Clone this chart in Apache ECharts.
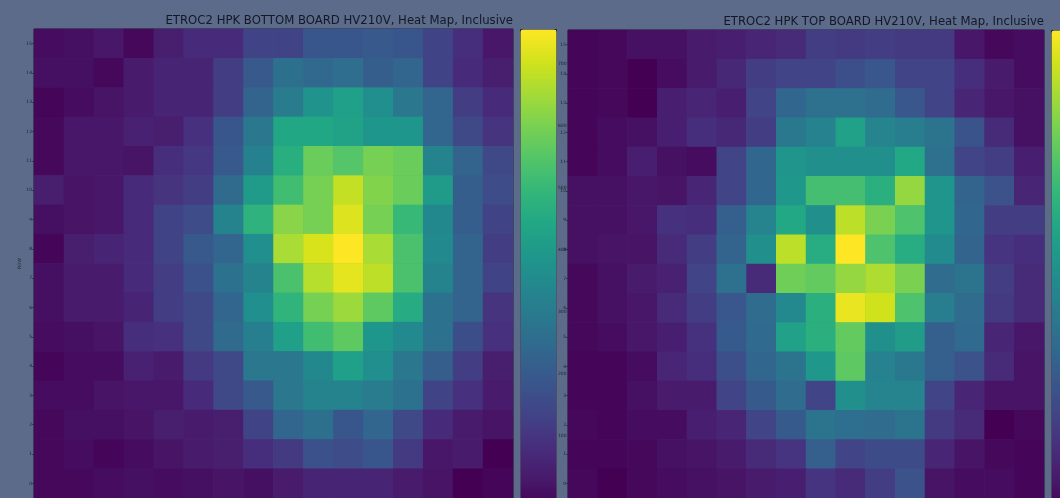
<!DOCTYPE html>
<html>
<head>
<meta charset="utf-8">
<script src="https://cdn.jsdelivr.net/npm/echarts@6/dist/echarts.min.js"></script>
<style>
html,body{margin:0;padding:0;background:#5b6b89;}
#c{width:1060px;height:498px;}
</style>
</head>
<body>
<div id="c"></div>
<script>
// Column / row categories (0..15)
const columns = ['0','1','2','3','4','5','6','7','8','9','10','11','12','13','14','15'];
const rows = ['0','1','2','3','4','5','6','7','8','9','10','11','12','13','14','15'];
const colorbarTicks = [100, 200, 300, 400, 500, 600, 700];

const leftTitle = 'ETROC2 HPK BOTTOM BOARD HV210V, Heat Map, Inclusive';
const rightTitle = 'ETROC2 HPK TOP BOARD HV210V, Heat Map, Inclusive';

// Hit counts, listed from ROW 15 (top) down to ROW 0 (bottom); columns 0..15
const bottomBoard = [
  [23,30,45,15,60,90,90,150,150,203,203,210,203,150,98,45],
  [30,30,15,53,75,75,135,210,278,255,270,225,248,150,90,60],
  [8,23,38,53,75,75,135,240,315,390,428,375,300,248,135,90],
  [15,45,45,68,60,105,203,300,450,450,435,398,398,248,165,113],
  [15,45,45,38,98,120,210,330,473,585,555,600,585,338,240,165],
  [60,38,45,90,113,135,263,413,525,600,690,615,585,413,225,173],
  [30,38,45,90,150,173,338,488,623,600,720,600,510,353,225,150],
  [8,60,75,90,150,210,248,375,660,713,757,660,540,360,240,135],
  [30,53,53,90,135,188,285,338,540,675,728,683,540,338,240,150],
  [30,53,53,75,135,165,248,375,495,600,645,570,465,285,240,113],
  [23,30,38,98,105,165,263,323,428,525,570,398,360,285,180,105],
  [8,23,23,68,53,128,165,300,300,353,428,375,300,225,135,60],
  [23,23,38,45,45,90,165,210,300,338,338,315,285,150,105,53],
  [15,30,30,38,60,53,60,150,248,278,203,248,165,90,53,38],
  [15,23,8,23,38,53,60,98,128,188,173,203,128,45,53,0],
  [15,15,23,30,23,30,38,30,53,75,75,75,53,38,0,8]
];
const topBoard = [
  [7,14,29,29,50,58,72,86,130,122,130,122,122,43,14,22],
  [7,14,0,22,50,79,130,144,144,173,194,144,144,94,50,22],
  [7,14,0,58,72,58,144,238,266,266,252,194,144,72,43,29],
  [7,22,29,58,94,79,130,288,317,410,324,302,274,187,86,29],
  [7,22,58,29,22,144,238,374,360,360,360,432,266,144,130,58],
  [29,29,43,36,72,144,238,382,504,504,454,605,374,230,180,72],
  [29,29,43,101,94,216,324,432,360,648,576,518,374,238,130,130],
  [29,36,36,86,130,230,360,648,446,720,518,446,346,230,108,94],
  [14,29,50,65,144,266,86,562,547,605,634,576,252,274,130,86],
  [14,29,43,86,130,194,252,338,454,698,670,518,302,252,122,86],
  [14,22,43,58,101,202,245,410,454,547,360,396,216,245,72,43],
  [7,7,22,72,94,173,238,274,382,540,317,288,216,180,86,36],
  [7,7,29,50,50,144,202,252,144,360,324,324,144,72,36,36],
  [14,7,22,22,58,72,144,202,274,259,252,274,122,86,0,14],
  [7,7,14,29,36,50,86,108,216,144,166,166,72,36,14,7],
  [14,0,14,22,29,36,50,58,108,86,130,180,36,22,22,7]
];
const leftRange = [0, 757];
const rightRange = [0, 720];

const viridis = ['#440154','#481a6c','#472f7d','#414487','#39568c','#31688e','#2a788e','#23888e',
  '#1f988b','#22a884','#35b779','#54c568','#7ad151','#a5db36','#d2e21b','#fde725'];

function toCells(board) {
  const out = [];
  board.forEach((r, i) => {
    const y = 15 - i;
    r.forEach((v, x) => out.push([x, y, v]));
  });
  return out;
}

const tickFont = {fontSize: 4.5, color: '#1e2230', fontFamily: 'DejaVu Sans', margin: 2};
function catY(gridIndex) {
  return {
    type: 'category', data: rows, gridIndex,
    axisLine: {show: false},
    axisTick: {show: true, length: 2, alignWithLabel: true, lineStyle: {color: '#1e2230', width: 0.6}},
    axisLabel: tickFont,
    splitLine: {show: false},
    name: 'ROW', nameLocation: 'middle', nameGap: 12, nameRotate: 90,
    nameTextStyle: {fontSize: 4.5, color: '#1e2230', fontFamily: 'DejaVu Sans'}
  };
}
function catX(gridIndex) {
  return {
    type: 'category', data: columns, gridIndex,
    axisLine: {show: false}, axisTick: {show: false}, axisLabel: {show: false}, splitLine: {show: false}
  };
}

const titleStyle = {fontSize: 11.7, fontWeight: 'normal', color: '#141826', fontFamily: 'DejaVu Sans'};
const option = {
  backgroundColor: '#5b6b89',
  animation: false,
  title: [
    {text: leftTitle, right: 1060 - 513, top: 15, textStyle: titleStyle, padding: 0},
    {text: rightTitle, right: 1060 - 1044, top: 16, textStyle: titleStyle, padding: 0}
  ],
  grid: [
    {left: 34, top: 29, width: 479, height: 480, show: true, borderColor: '#222631', borderWidth: 1, backgroundColor: 'transparent'},
    {left: 568, top: 30, width: 476, height: 480, show: true, borderColor: '#222631', borderWidth: 1, backgroundColor: 'transparent'},
    {left: 520, top: 29, width: 36, height: 480, show: false}
  ],
  xAxis: [
    catX(0), catX(1),
    {type: 'value', gridIndex: 2, show: false, min: 0, max: 1}
  ],
  yAxis: [
    catY(0), catY(1),
    {type: 'value', gridIndex: 2, min: leftRange[0], max: leftRange[1], interval: 100, position: 'right',
     axisLine: {show: false},
     axisTick: {show: true, length: 2, lineStyle: {color: '#1e2230', width: 0.6}},
     axisLabel: Object.assign({}, tickFont, {showMaxLabel: false, showMinLabel: false,
       formatter: v => colorbarTicks.indexOf(v) >= 0 ? String(v) : ''}),
     splitLine: {show: false}}
  ],
  visualMap: [
    {type: 'continuous', seriesIndex: 0, min: leftRange[0], max: leftRange[1], calculable: false,
     left: 520, top: 29, itemWidth: 36, itemHeight: 480, padding: 0, text: null, showLabel: false,
     hoverLink: false, borderColor: '#222631', borderWidth: 1,
     inRange: {color: viridis}},
    {type: 'continuous', seriesIndex: 1, min: rightRange[0], max: rightRange[1], calculable: false,
     left: 1051, top: 30, itemWidth: 36, itemHeight: 480, padding: 0, text: null, showLabel: false,
     hoverLink: false, borderColor: '#222631', borderWidth: 1,
     inRange: {color: viridis}}
  ],
  series: [
    {type: 'heatmap', xAxisIndex: 0, yAxisIndex: 0, data: toCells(bottomBoard),
     itemStyle: {borderWidth: 0}, emphasis: {disabled: true}},
    {type: 'heatmap', xAxisIndex: 1, yAxisIndex: 1, data: toCells(topBoard),
     itemStyle: {borderWidth: 0}, emphasis: {disabled: true}}
  ]
};

const chart = echarts.init(document.getElementById('c'), null, {renderer: 'canvas'});
chart.setOption(option);
</script>
</body>
</html>
